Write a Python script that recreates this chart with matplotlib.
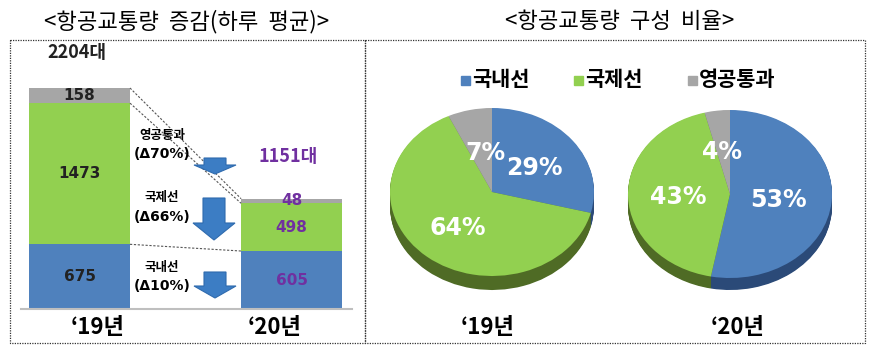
import matplotlib
matplotlib.use("Agg")
import matplotlib.pyplot as plt
from matplotlib.patches import Rectangle, Polygon

plt.rcParams['font.family'] = ['Noto Sans CJK KR', 'DejaVu Sans']

# data
years = ['‘19년', '‘20년']
segments = ['국내선', '국제선', '영공통과']
domestic = [675, 605]
intl = [1473, 498]
overflight = [158, 48]
totals = ['2204대', '1151대']
changes = ['(Δ10%)', '(Δ66%)', '(Δ70%)']
share_19 = [29, 64, 7]
share_20 = [53, 43, 4]

blue, green, grey = '#4F81BD', '#92D050', '#A6A6A6'
dark = ['#2B4A78', '#4F6B25', '#6E6E6E']
purple = '#7030A0'

W, H = 871, 358
fig = plt.figure(figsize=(W / 100, H / 100), dpi=100)


def box(l, t, r, b):
    return [l / W, 1 - b / H, (r - l) / W, (b - t) / H]


# ---- stacked bars ----
axb = fig.add_axes(box(21, 60, 352, 309))
axb.patch.set_alpha(0)
x = [0, 1]
bw = 0.476
base2 = [d + i for d, i in zip(domestic, intl)]
tops = [base2[i] + overflight[i] for i in range(2)]
axb.bar(x, domestic, bw, color=blue)
axb.bar(x, intl, bw, bottom=domestic, color=green)
axb.bar(x, overflight, bw, bottom=base2, color=grey)
axb.set_xlim(-0.276, 1.285)
axb.set_ylim(0, tops[0] * 249 / 221)
for s in ['top', 'right', 'left']:
    axb.spines[s].set_visible(False)
axb.spines['bottom'].set_color('#BFBFBF')
axb.spines['bottom'].set_linewidth(1.5)
axb.set_xticks([])
axb.set_yticks([])

for i in range(2):
    col = '#222222' if i == 0 else purple
    axb.text(x[i], domestic[i] / 2, f'{domestic[i]}', ha='center', va='center',
             fontsize=11, fontweight='bold', color=col, family='DejaVu Sans')
    axb.text(x[i], domestic[i] + intl[i] / 2, f'{intl[i]}', ha='center', va='center',
             fontsize=11, fontweight='bold', color=col, family='DejaVu Sans')
    axb.text(x[i], base2[i] + overflight[i] / 2, f'{overflight[i]}', ha='center', va='center',
             fontsize=11, fontweight='bold', color=col, family='DejaVu Sans')

# connector dashed lines
for y0, y1 in [(tops[0], tops[1]), (base2[0], base2[1]), (domestic[0], domestic[1])]:
    axb.plot([x[0] + bw / 2, x[1] - bw / 2], [y0, y1], ls=(0, (2, 1.5)),
             color='#555555', lw=0.8)

# ---- pies ----
def pie3d(cx, cy, rx, ry, thick, vals):
    ax = fig.add_axes(box(cx - rx, cy - ry, cx + rx, cy + ry + thick))
    ax.patch.set_alpha(0)
    n = 16
    for k in range(n, 0, -1):
        off = -thick / ry * k / n
        ax.pie(vals, colors=dark, startangle=90, counterclock=False,
               center=(0, off), radius=1, wedgeprops=dict(linewidth=0))
    ax.pie(vals, colors=[blue, green, grey], startangle=90, counterclock=False,
           radius=1, wedgeprops=dict(linewidth=0))
    ax.set_aspect('auto')
    ax.set_xlim(-1, 1)
    ax.set_ylim(-1 - thick / ry, 1)
    ax.axis('off')
    return ax


pie3d(492, 192, 102, 84, 14, share_19)
pie3d(730, 194, 102, 84, 12, share_20)

# ---- overlay ----
ax = fig.add_axes([0, 0, 1, 1])
ax.patch.set_alpha(0)
ax.set_xlim(0, W)
ax.set_ylim(H, 0)
ax.axis('off')

ax.add_patch(Rectangle((10, 40), 355, 303, fill=False, ls=(0, (1, 1)), lw=0.9, ec='#333333'))
ax.add_patch(Rectangle((365, 40), 500, 303, fill=False, ls=(0, (1, 1)), lw=0.9, ec='#333333'))

ax.text(187, 22, '<항공교통량  증감(하루  평균)>', ha='center', va='center', fontsize=16)
ax.text(620, 22, '<항공교통량  구성  비율>', ha='center', va='center', fontsize=16)

ax.text(47, 53, totals[0], ha='left', va='center', fontsize=13, fontweight='bold', color='#222222')
ax.text(258, 157, totals[1], ha='left', va='center', fontsize=13, fontweight='bold', color=purple)

ax.text(98, 328, years[0], ha='center', va='center', fontsize=16, fontweight='bold')
ax.text(275, 328, years[1], ha='center', va='center', fontsize=16, fontweight='bold')
ax.text(488, 328, years[0], ha='center', va='center', fontsize=16, fontweight='bold')
ax.text(738, 328, years[1], ha='center', va='center', fontsize=16, fontweight='bold')

for (yy, name, ch) in [(135, segments[2], changes[2]), (198, segments[1], changes[1]),
                       (267, segments[0], changes[0])]:
    ax.text(162, yy, name, ha='center', va='center', fontsize=9, fontweight='bold')
    ax.text(162, yy + 19, ch, ha='center', va='center', fontsize=10, fontweight='bold',
            family='DejaVu Sans')


def down_arrow(xc, y0, y1, hw=21, sw=11, hh=14):
    pts = [(xc - sw, y0), (xc + sw, y0), (xc + sw, y1 - hh), (xc + hw, y1 - hh),
           (xc, y1), (xc - hw, y1 - hh), (xc - sw, y1 - hh)]
    ax.add_patch(Polygon(pts, closed=True, fc='#3C7DC4', ec='#2F6BAE', lw=0.8))


down_arrow(215, 158, 174, hh=9)
down_arrow(214, 198, 240, hh=17)
down_arrow(215, 272, 298, hh=12)

# legend
for lx, c, name in [(465, blue, segments[0]), (578, green, segments[1]), (692, grey, segments[2])]:
    ax.add_patch(Rectangle((lx - 4.5, 75.5), 9, 9, color=c))
    ax.text(lx + 7, 80, name, ha='left', va='center', fontsize=15, fontweight='bold')

# pie labels
for px, py, v in [(485, 153, share_19[2]), (534, 168, share_19[0]), (458, 228, share_19[1]),
                  (722, 152, share_20[2]), (678, 197, share_20[1]), (778, 200, share_20[0])]:
    ax.text(px, py, f'{v}%', ha='center', va='center', fontsize=17, fontweight='bold',
            color='white', family='DejaVu Sans')

fig.savefig('out.png', dpi=100)
